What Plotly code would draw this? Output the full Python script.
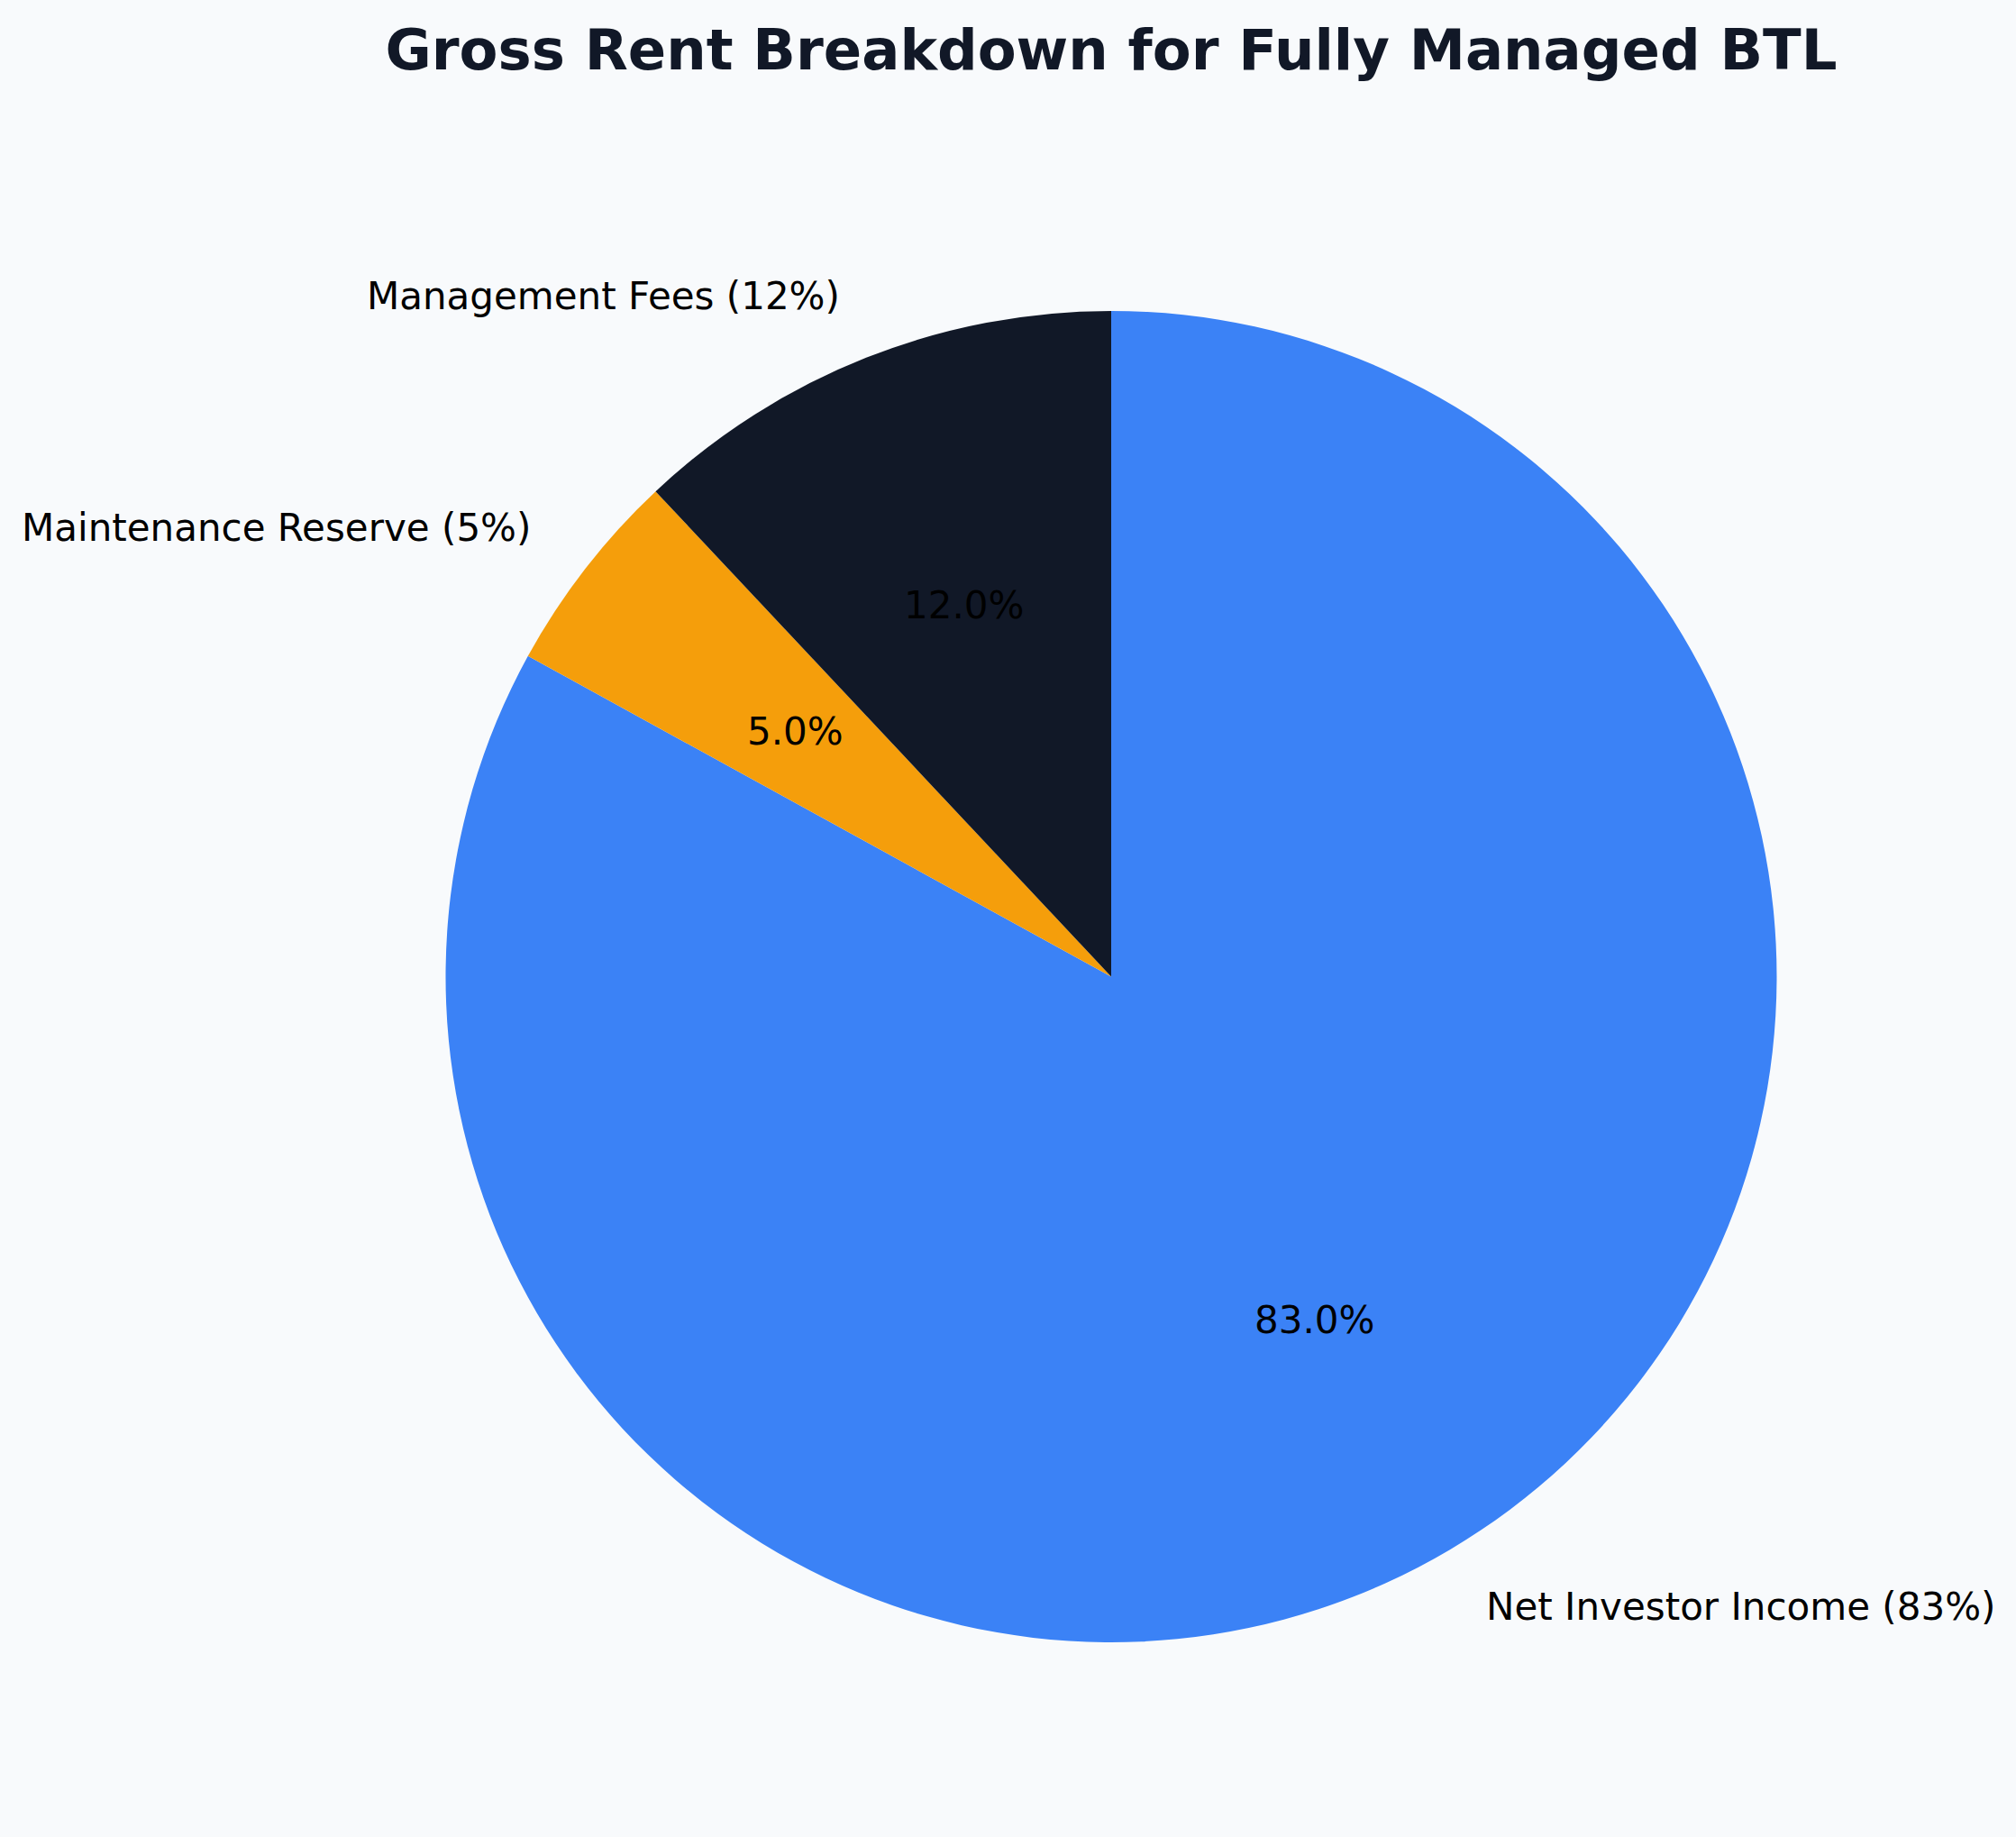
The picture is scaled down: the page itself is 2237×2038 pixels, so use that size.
import math
import plotly.graph_objects as go

labels = ["Management Fees (12%)", "Maintenance Reserve (5%)", "Net Investor Income (83%)"]
values = [12, 5, 83]
colors = ["#111827", "#f59e0b", "#3b82f6"]

W, H = 2237, 2038
cx, cy_top, r = 1233, 1083.5, 738.5
cy = H - cy_top

# matplotlib-style: counterclockwise from 12 o'clock == clockwise with reversed order
fig = go.Figure(go.Pie(
    labels=labels[::-1], values=values[::-1], sort=False, direction="clockwise",
    rotation=0, textinfo="none", hoverinfo="label+percent",
    marker=dict(colors=colors[::-1], line=dict(width=0)),
    domain=dict(x=[(cx - r) / W, (cx + r) / W], y=[(cy - r) / H, (cy + r) / H]),
    showlegend=False,
))

total = sum(values)
start = 90.0
annotations = []
for lab, v in zip(labels, values):
    frac = v / total
    mid = math.radians(start + frac * 360 / 2)
    start += frac * 360
    lx = cx + 1.1 * r * math.cos(mid)
    ly = cy + 1.1 * r * math.sin(mid)
    annotations.append(dict(
        x=lx / W, y=ly / H, xref="paper", yref="paper", text=lab, showarrow=False,
        xanchor="left" if math.cos(mid) > 0 else "right", yanchor="middle",
        font=dict(family="DejaVu Sans", size=42, color="#000000"),
    ))
    px_ = cx + 0.6 * r * math.cos(mid)
    py_ = cy + 0.6 * r * math.sin(mid)
    annotations.append(dict(
        x=px_ / W, y=py_ / H, xref="paper", yref="paper", text=f"{frac*100:.1f}%",
        showarrow=False, xanchor="center", yanchor="middle",
        font=dict(family="DejaVu Sans", size=42, color="#000000"),
    ))

fig.update_layout(
    width=W, height=H, margin=dict(l=0, r=0, t=0, b=0),
    paper_bgcolor="#f8fafc", plot_bgcolor="#f8fafc",
    title=dict(text="<b>Gross Rent Breakdown for Fully Managed BTL</b>",
               x=cx / W, xanchor="center", y=1 - 55 / H, yanchor="middle",
               font=dict(family="DejaVu Sans", size=62.5, color="#111827")),
    annotations=annotations,
)
fig.write_html("out.html")
